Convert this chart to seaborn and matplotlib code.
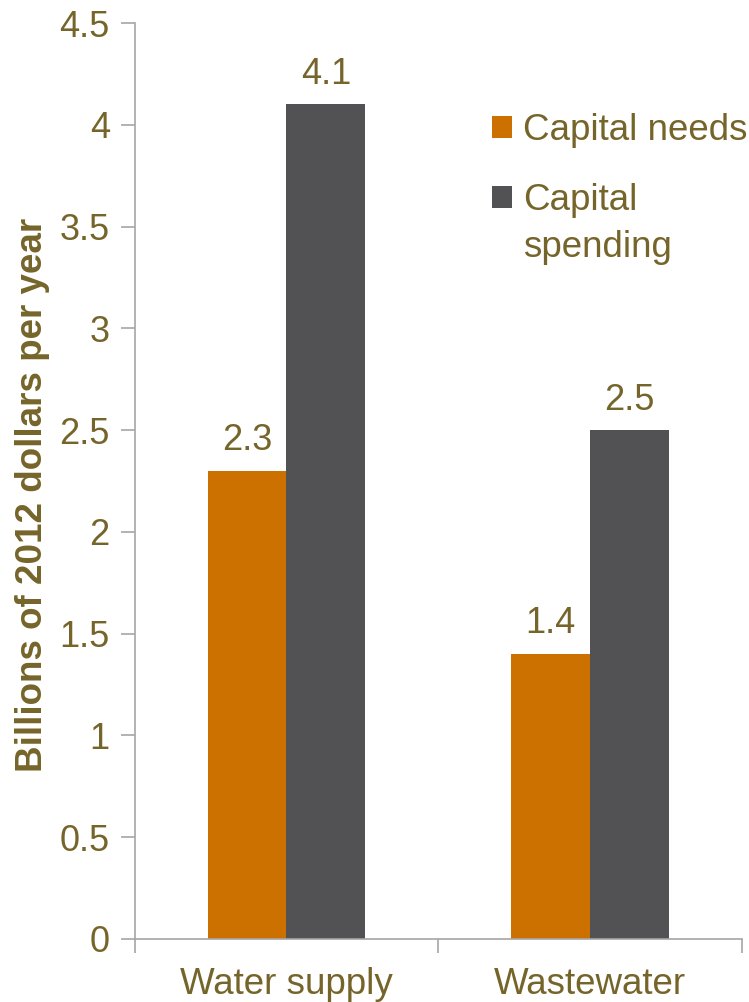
import matplotlib
matplotlib.use("Agg")
import matplotlib.pyplot as plt
from matplotlib.patches import Patch
import pandas as pd
import seaborn as sns

# data
categories = ["Water supply", "Wastewater"]
series = ["Capital needs", "Capital spending"]
capital_needs = [2.3, 1.4]
capital_spending = [4.1, 2.5]
yticks = [0, 0.5, 1, 1.5, 2, 2.5, 3, 3.5, 4, 4.5]
ytick_labels = ["0", "0.5", "1", "1.5", "2", "2.5", "3", "3.5", "4", "4.5"]

text_color = "#76652A"
axis_color = "#A6A6A6"
colors = ["#CC7000", "#525254"]

df = pd.DataFrame({
    "category": categories * 2,
    "series": [series[0]] * 2 + [series[1]] * 2,
    "value": capital_needs + capital_spending,
})

sns.set_style("white")
plt.rcParams["font.family"] = ["Liberation Sans", "DejaVu Sans"]

fig = plt.figure(figsize=(7.49, 10.02), dpi=100)
ax = fig.add_axes([0.180, 0.063, 0.810, 0.914])

sns.barplot(data=df, x="category", y="value", hue="series", order=categories,
            hue_order=series, palette=colors, width=0.52, saturation=1,
            linewidth=0, ax=ax, legend=False)

# value labels above bars
for cont in ax.containers:
    ax.bar_label(cont, fmt="%.1f", padding=9, fontsize=26, color=text_color)

ax.set_ylim(0, 4.5)
ax.set_xlim(-0.5, 1.5)
ax.set_yticks(yticks)
ax.set_yticklabels(ytick_labels)
ax.set_xticks([0, 1])
ax.set_xticks([-0.5, 0.5, 1.5], minor=True)
ax.tick_params(axis="x", which="major", length=0, pad=20, labelsize=26.5, labelcolor=text_color)
ax.tick_params(axis="x", which="minor", length=10, width=1.2, color=axis_color, direction="out", bottom=True)
ax.tick_params(axis="y", length=10, width=1.2, color=axis_color, direction="out", left=True,
               labelsize=26, labelcolor=text_color, pad=8)

for side in ["top", "right"]:
    ax.spines[side].set_visible(False)
for side in ["left", "bottom"]:
    ax.spines[side].set_color(axis_color)
    ax.spines[side].set_linewidth(1.2)

ax.set_xlabel("")
ax.set_ylabel("Billions of 2012 dollars per year", fontsize=26.5, fontweight="bold",
              color=text_color, labelpad=7)
ax.yaxis.label.set_y(0.485)

# legend: second label wraps onto a line below, square stays beside first line
handles = [Patch(facecolor=c, edgecolor="none") for c in colors]
leg = ax.legend(handles, ["Capital needs", "Capital"], loc="upper left",
                bbox_to_anchor=(492 / 749, 1 - 113 / 1002), bbox_transform=fig.transFigure,
                frameon=False, fontsize=26.5, handlelength=0.55, handleheight=0.55,
                handletextpad=0.3, labelspacing=0.95, borderaxespad=0, borderpad=0)
for t in leg.get_texts():
    t.set_color(text_color)

fig.canvas.draw()
bb = leg.get_texts()[1].get_window_extent()
x0, y0 = fig.transFigure.inverted().transform((bb.x0, bb.y0))
fig.text(x0, y0 - 12 / 1002, "spending", fontsize=26.5, color=text_color, ha="left", va="top")

fig.savefig("out.png", dpi=100)
